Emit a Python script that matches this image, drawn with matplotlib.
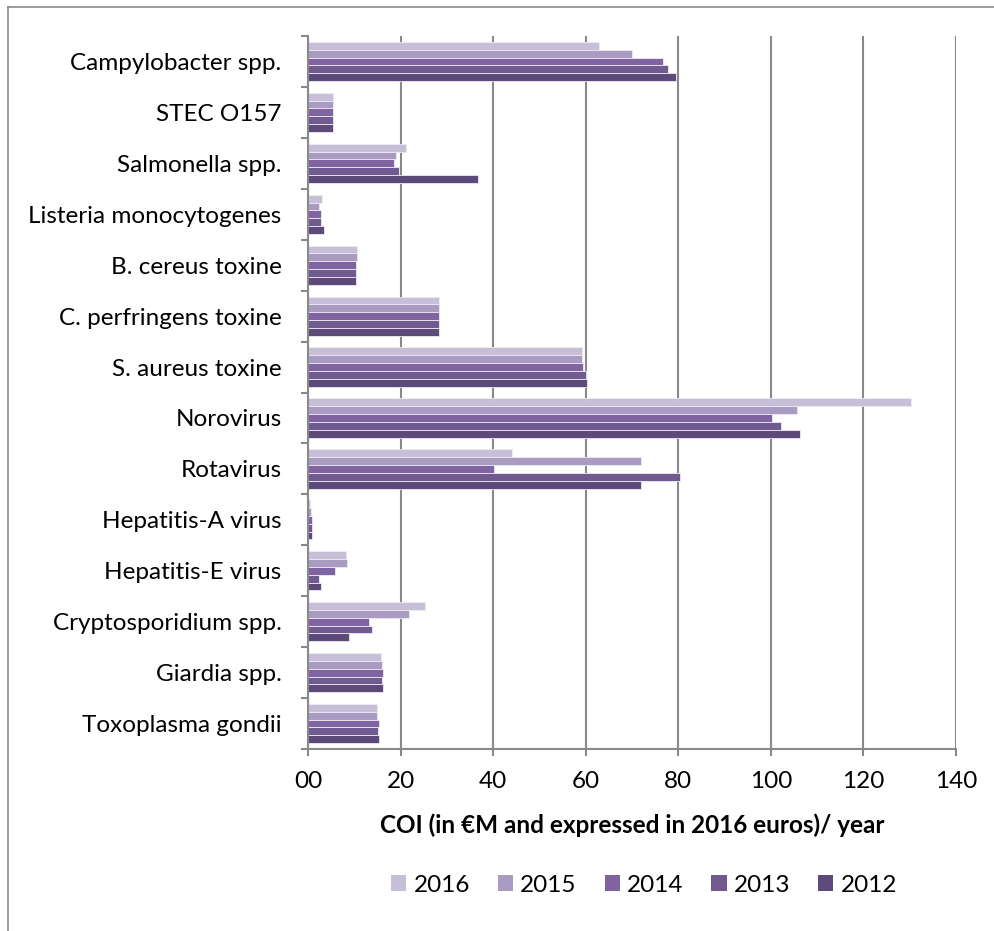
import numpy as np
import matplotlib.pyplot as plt
from matplotlib.lines import Line2D
from matplotlib.patches import Patch

plt.rcParams['font.family'] = ['Lato', 'DejaVu Sans']

pathogens = ['Campylobacter spp.', 'STEC O157', 'Salmonella spp.', 'Listeria monocytogenes',
             'B. cereus toxine', 'C. perfringens toxine', 'S. aureus toxine', 'Norovirus',
             'Rotavirus', 'Hepatitis-A virus', 'Hepatitis-E virus', 'Cryptosporidium spp.',
             'Giardia spp.', 'Toxoplasma gondii']
years = ['2016', '2015', '2014', '2013', '2012']
coi_2016 = [62.9, 5.4, 21.1, 3.1, 10.6, 28.3, 59.2, 130.3, 44.1, 0.5, 8.3, 25.2, 15.8, 14.9]
coi_2015 = [70.0, 5.4, 19.0, 2.4, 10.5, 28.3, 59.2, 105.6, 71.9, 0.6, 8.4, 21.9, 16.0, 15.0]
coi_2014 = [76.7, 5.4, 18.5, 2.9, 10.4, 28.3, 59.5, 100.3, 40.2, 0.8, 5.9, 13.1, 16.1, 15.3]
coi_2013 = [77.7, 5.4, 19.6, 2.7, 10.4, 28.3, 60.0, 102.1, 80.4, 0.8, 2.4, 13.8, 16.0, 15.1]
coi_2012 = [79.4, 5.4, 36.8, 3.4, 10.4, 28.3, 60.2, 106.3, 71.9, 0.95, 2.7, 8.8, 16.3, 15.4]
x_ticks = [0, 20, 40, 60, 80, 100, 120, 140]
x_tick_labels = ['00', '20', '40', '60', '80', '100', '120', '140']

series = [coi_2016, coi_2015, coi_2014, coi_2013, coi_2012]
colors = ['#C7BFD8', '#A99BC1', '#8064A2', '#705A8F', '#5E4A7A']
grid_col = '#898989'
fs = 17.5

fig = plt.figure(figsize=(9.94, 9.31), dpi=100)
ax = fig.add_axes([0.3099, 0.1955, 0.6519, 0.7658])

n = len(pathogens)
ypos = np.arange(n)[::-1]
h = 0.154
for j, (vals, col) in enumerate(zip(series, colors)):
    ax.barh(ypos + (2 - j) * h, vals, height=h, color=col,
            edgecolor='#EEEAF3', linewidth=0.6, zorder=2)

ax.set_xlim(0, 140)
ax.set_ylim(-0.5, n - 0.5)
ax.set_xticks(x_ticks)
ax.set_xticklabels(x_tick_labels, fontsize=fs)
ax.set_yticks(ypos)
ax.set_yticklabels(pathogens, fontsize=fs)
ax.set_yticks(np.arange(n + 1) - 0.5, minor=True)

ax.tick_params(axis='y', which='major', length=0, pad=19)
ax.tick_params(axis='y', which='minor', length=5, width=1.5, color=grid_col, direction='out')
ax.tick_params(axis='x', length=5, width=1.5, color=grid_col, direction='out', pad=11)

ax.grid(axis='x', color=grid_col, linewidth=1.5, zorder=0)
ax.set_axisbelow(True)
for s in ['top', 'right']:
    ax.spines[s].set_visible(False)
for s in ['left', 'bottom']:
    ax.spines[s].set_color(grid_col)
    ax.spines[s].set_linewidth(1.5)

ax.set_xlabel('COI (in €M and expressed in 2016 euros)/ year', fontsize=fs,
              fontweight='bold', labelpad=15)

handles = [Patch(facecolor=c, edgecolor='none') for c in colors]
fig.legend(handles, years, loc='center', bbox_to_anchor=(0.648, 0.049), ncol=5,
           frameon=False, fontsize=fs, handlelength=0.62, handleheight=0.62,
           handletextpad=0.3, columnspacing=1.15)

# outer chart frame (left and top edges)
fig.add_artist(Line2D([0.0085, 0.0085], [0, 0.9925], color='#8a8a8a', linewidth=1.2))
fig.add_artist(Line2D([0.0085, 1.0], [0.9925, 0.9925], color='#8a8a8a', linewidth=1.2))

fig.savefig('out.png', dpi=100)
